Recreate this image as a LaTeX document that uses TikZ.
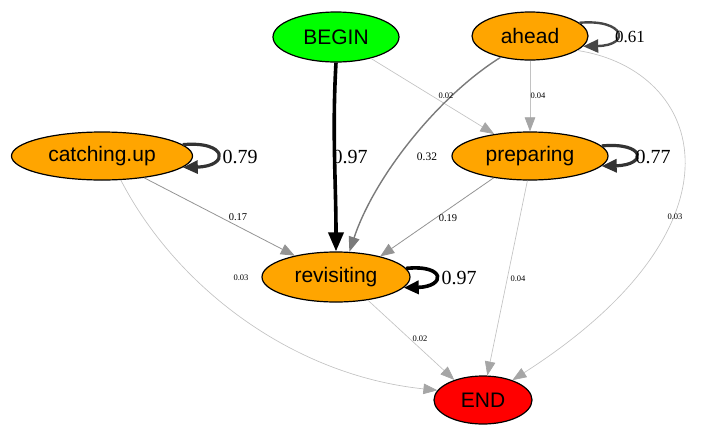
\documentclass[tikz,border=0pt]{standalone}
\usepackage{fontspec}
\setmainfont{Liberation Serif}
\newfontfamily\nodefont{Liberation Sans}
\usetikzlibrary{shapes.geometric,arrows.meta}
\definecolor{gorange}{HTML}{FFA500}
\definecolor{ggreen}{HTML}{00FF00}
\definecolor{gred}{HTML}{FF0000}
\tikzset{
  state/.style={ellipse, draw=black, line width=1.2pt, inner sep=0pt,
    font=\nodefont\fontsize{21}{21}\selectfont},
  light/.style={draw=black!24, line width=0.65pt, -{Triangle[length=14pt,width=10.5pt,color=black!35]}},
  mid/.style={draw=black!42, line width=0.8pt, -{Triangle[length=14pt,width=11pt,color=black!42]}},
  strong/.style={draw=black!52, line width=1.4pt, -{Triangle[length=15pt,width=11pt,color=black!52]}},
  heavy/.style={draw=black, line width=3.6pt, -{Triangle[length=19pt,width=15pt,color=black]}},
  loopd/.style={line width=#1, -{Triangle[length=15pt,width=13pt]}},
  biglab/.style={font=\fontsize{20}{20}\selectfont, inner sep=0pt},
  midlab/.style={font=\fontsize{10.5}{10.5}\selectfont, inner sep=0pt},
  smalllab/.style={font=\fontsize{8.5}{8.5}\selectfont, inner sep=0pt},
}
\begin{document}
\begin{tikzpicture}[x=1pt,y=-1pt]
\useasboundingbox (0,0) rectangle (702,426);
% nodes
\node[state, fill=ggreen, minimum width=126pt, minimum height=50pt] (begin) at (336,37) {BEGIN};
\node[state, fill=gorange, minimum width=116pt, minimum height=48pt] (ahead) at (530,36) {ahead};
\node[state, fill=gorange, minimum width=181pt, minimum height=48pt] (catch) at (102,156) {catching.up};
\node[state, fill=gorange, minimum width=156pt, minimum height=48pt] (prep) at (530,156) {preparing};
\node[state, fill=gorange, minimum width=148pt, minimum height=50pt] (revis) at (336,277) {revisiting};
\node[state, fill=gred, minimum width=98pt, minimum height=48pt] (end) at (483,400) {END};
% light edges
\draw[light] (begin) -- (prep);
\draw[light] (ahead.south) -- (prep.north);
\draw[light] (ahead.-17) .. controls (705,70) and (755,225) .. (end.34);
\draw[light] (catch.-52) .. controls (175,285) and (290,375) .. (end.168);
\draw[light] (prep.-96) -- (end.80);
\draw[light] (revis.-36) -- (end.145);
% medium edges
\draw[mid] (catch) -- (revis);
\draw[mid] (prep.-149) -- (revis.25);
\draw[strong] (ahead.-144) .. controls (440,95) and (375,175) .. (revis.62);
\draw[heavy] (begin.south) .. controls +(-4,70) and +(0,-70) .. (revis.north);
% self loops
\draw[loopd=2.4pt, draw=black!72] (ahead.15) .. controls +(46,-4) and +(48,-1) .. (ahead.-11);
\draw[loopd=3.2pt, draw=black!80] (catch.8) .. controls +(45,-4) and +(47,-1) .. (catch.-8);
\draw[loopd=3.2pt, draw=black!80] (prep.8) .. controls +(44,-4) and +(46,-1) .. (prep.-8);
\draw[loopd=3.6pt, draw=black] (revis.7) .. controls +(40,-4) and +(42,-1) .. (revis.-9);
% labels
\node[biglab] (l1) at (350,157) {0.97};
\node[biglab] (l2) at (459,278) {0.97};
\node[biglab] (l3) at (240,157) {0.79};
\node[biglab] (l4) at (653,157) {0.77};
\node[font=\fontsize{17}{17}\selectfont, inner sep=0pt] (l5) at (630,37) {0.61};
\node[font=\fontsize{11.5}{11.5}\selectfont, inner sep=0pt] (l6) at (427,157) {0.32};
\node[midlab] (l7) at (238,217) {0.17};
\node[midlab] (l8) at (448,218) {0.19};
\node[smalllab] (l9) at (446,96) {0.02};
\node[smalllab] (l10) at (538,96) {0.04};
\node[smalllab] (l11) at (675,217) {0.03};
\node[smalllab] (l12) at (241,278) {0.03};
\node[smalllab] (l13) at (518,279) {0.04};
\node[smalllab] (l14) at (420,339) {0.02};
\end{tikzpicture}
\end{document}
